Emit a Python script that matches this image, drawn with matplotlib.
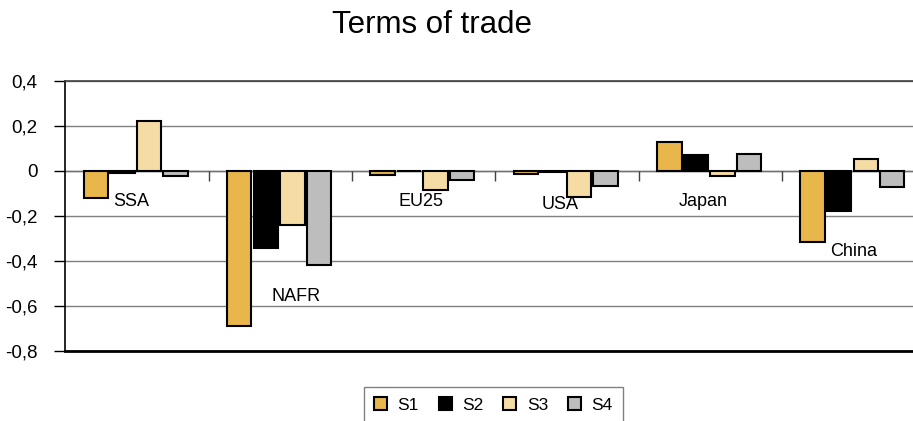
import numpy as np
import matplotlib
matplotlib.use("Agg")
import matplotlib.pyplot as plt
from matplotlib.ticker import FuncFormatter

plt.rcParams['font.family'] = ['Liberation Sans', 'DejaVu Sans']

# data
regions = ["SSA", "NAFR", "EU25", "USA", "Japan", "China"]
series = ["S1", "S2", "S3", "S4"]
s1 = [-0.12, -0.69, -0.02, -0.015, 0.13, -0.315]
s2 = [-0.01, -0.345, -0.003, -0.005, 0.068, -0.18]
s3 = [0.22, -0.24, -0.085, -0.115, -0.024, 0.052]
s4 = [-0.024, -0.42, -0.04, -0.068, 0.074, -0.07]
colors = ["#E8B64A", "#000000", "#F5DCA5", "#BDBDBD"]

# where the region names sit (x offset inside the group, y in data units)
label_dx = [0.463, 0.608, 0.482, 0.452, 0.448, 0.499]
label_y = [-0.138, -0.557, -0.135, -0.152, -0.138, -0.36]

fig = plt.figure(figsize=(9.13, 4.21), dpi=100)
ax = fig.add_axes([0.0715, 0.167, 0.942, 0.641])

x = np.arange(len(regions))
step, width, start = 0.185, 0.17, 0.129
for j, (name, vals) in enumerate(zip(series, [s1, s2, s3, s4])):
    ax.bar(x + start + j * step, vals, width=width, align='edge',
           color=colors[j], edgecolor='black', linewidth=1.5, label=name, zorder=3)

ax.set_xlim(0, len(regions))
ax.set_ylim(-0.8, 0.4)
ax.set_yticks(np.arange(-0.8, 0.41, 0.2))
ax.yaxis.set_major_formatter(FuncFormatter(
    lambda v, p: "0" if abs(v) < 1e-9 else f"{v:.1f}".replace('.', ',')))
ax.tick_params(axis='y', direction='out', length=8, width=1, labelsize=13.5, pad=12)
ax.set_xticks([])
ax.grid(axis='y', color='#808080', linewidth=1, zorder=0)

# category axis at zero with tick marks between groups
ax.axhline(0, color='#707070', linewidth=1, zorder=2)
ax.plot(np.arange(1, len(regions)), np.zeros(len(regions) - 1), linestyle='none',
        marker=3, markersize=7, markeredgewidth=1, color='#404040', zorder=2)

for i, name in enumerate(regions):
    ax.text(i + label_dx[i], label_y[i], name, ha='center', va='center', fontsize=13, zorder=4)

ax.spines['left'].set_linewidth(1.2)
ax.spines['top'].set_color('#404040')
ax.spines['top'].set_linewidth(1.2)
ax.spines['bottom'].set_linewidth(2)
ax.spines['right'].set_visible(False)

fig.text(0.473, 0.921, "Terms of trade", ha='center', va='baseline', fontsize=22.5)

leg = fig.legend(loc='upper center', bbox_to_anchor=(493.4 / 913, 1 - 386.7 / 421),
                 ncol=4, fontsize=12.5, frameon=True, fancybox=False,
                 handlelength=0.75, handleheight=0.75, handletextpad=0.6,
                 columnspacing=1.15, borderpad=0.6, borderaxespad=0)
leg.get_frame().set_edgecolor('#606060')
leg.get_frame().set_linewidth(1)

fig.savefig("out.png", dpi=100)
